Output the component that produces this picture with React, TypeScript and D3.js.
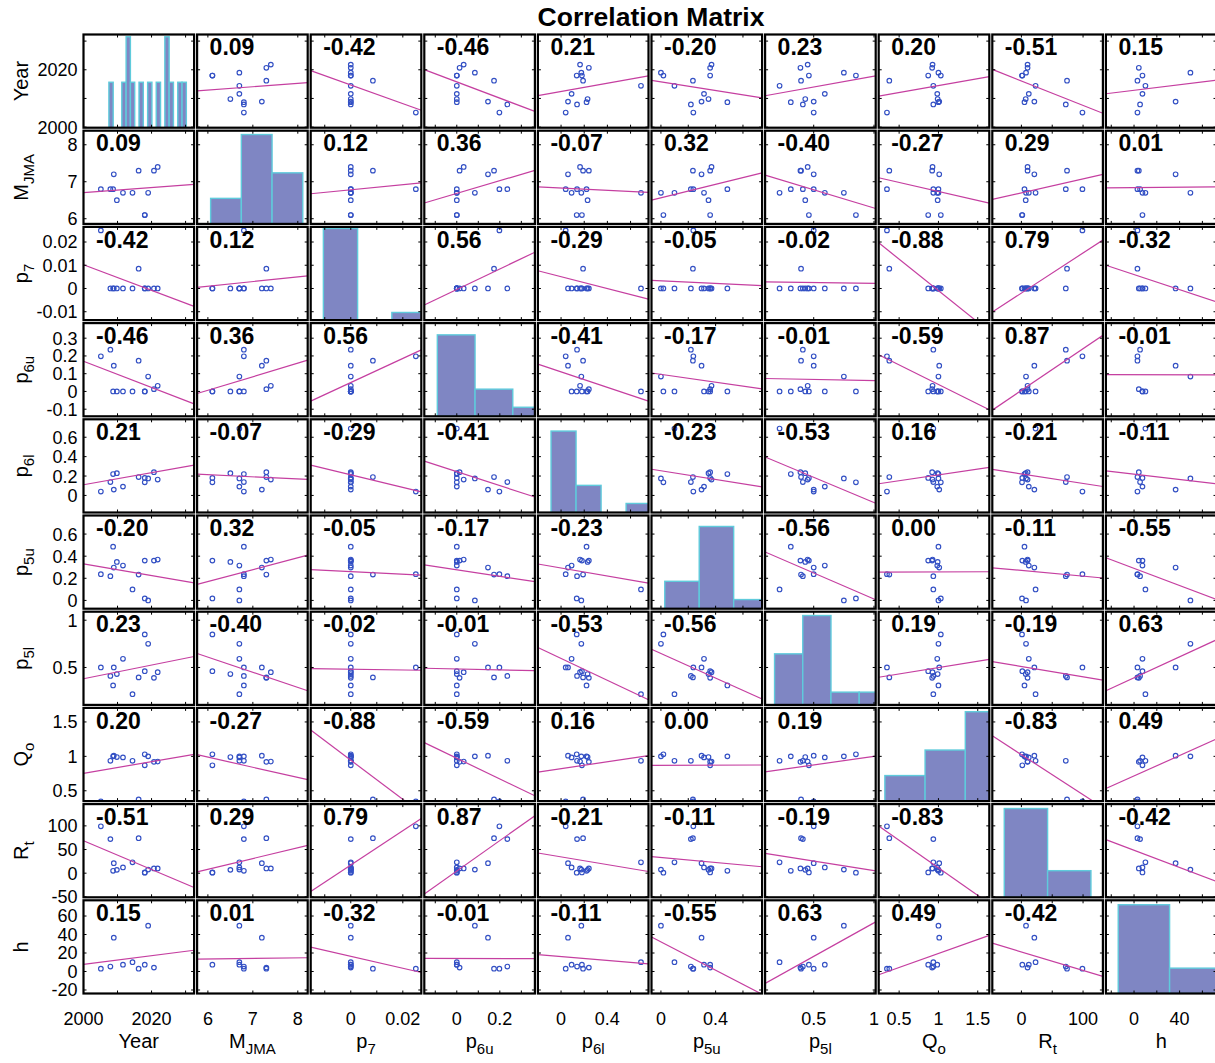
import React from "react";
import * as d3 from "d3";

// ---- observations (one entry per event) ----
const year = [2005.1, 2007.9, 2008.7, 2008.9, 2009.8, 2011.6, 2014.4, 2016.2, 2018.0, 2018.0, 2019.0, 2020.7, 2021.8];
const mjma = [6.8, 6.8, 6.8, 7.2, 6.5, 6.7, 6.7, 7.3, 6.1, 6.1, 6.7, 7.3, 7.4];
const p7 = [0.025, 0, 0, 0, 0, 0, 0, 0.0085, 0, 0, 0, 0, 0];
const p6u = [0.198, 0.235, 0, 0.145, 0, 0, 0, 0.173, 0, 0, 0.084, 0.013, 0.032];
const p6l = [0.04, 0.138, 0.22, 0.06, 0.229, 0.091, 0.69, 0.19, 0.18, 0.135, 0.175, 0.24, 0.164];
const p5u = [0.237, 0.219, 0.486, 0.297, 0.348, 0.315, 0.099, 0.234, 0.36, 0.018, 0.0, 0.36, 0.37];
const p5l = [0.5, 0.41, 0.31, 0.5, 0.43, 0.592, 0.217, 0.395, 0.46, 0.85, 0.75, 0.39, 0.45];
const qo = [0.345, 0.935, 1.0, 1.01, 0.99, 0.985, 0.935, 0.375, 0.87, 1.03, 1.0, 0.92, 0.925];
const rt = [99, 72, 5, 21, 7, 12, 23, 74, 1.5, 1.0, 7.5, 10, 10];
const depth = [3, 5.3, NaN, 36.5, NaN, 7.4, 10, 3, 7.4, NaN, 49.5, 4.2, NaN];

const columns = [year, mjma, p7, p6u, p6l, p5u, p5l, qo, rt, depth];

// variable names: main text + subscript
const nameMain = ["Year", "M", "p", "p", "p", "p", "p", "Q", "R", "h"];
const nameSub = ["", "JMA", "7", "6u", "6l", "5u", "5l", "o", "t", ""];

// printed correlation coefficients (upper triangle, row by row)
const corrUpper = [
  [0.09, -0.42, -0.46, 0.21, -0.2, 0.23, 0.2, -0.51, 0.15],
  [0.12, 0.36, -0.07, 0.32, -0.4, -0.27, 0.29, 0.01],
  [0.56, -0.29, -0.05, -0.02, -0.88, 0.79, -0.32],
  [-0.41, -0.17, -0.01, -0.59, 0.87, -0.01],
  [-0.23, -0.53, 0.16, -0.21, -0.11],
  [-0.56, 0.0, -0.11, -0.55],
  [0.19, -0.19, 0.63],
  [-0.83, 0.49],
  [-0.42],
];

// axis limits
const xDomains: [number, number][] = [
  [2000, 2032.5], [5.76, 8.22], [-0.0154, 0.0271], [-0.151, 0.363], [-0.2, 0.755],
  [-0.069, 0.74], [0.097, 1.014], [0.24, 1.647], [-47.2, 132.2], [-24.7, 72.4],
];
const yDomains: [number, number][] = [
  [1999.8, 2032.3], [5.86, 8.38], [-0.0136, 0.0265], [-0.14, 0.385], [-0.176, 0.785],
  [-0.075, 0.768], [0.104, 1.09], [0.35, 1.704], [-51, 146], [-23.8, 77],
];

// tick marks and tick labels
const tickMarks = [
  [2000, 2010, 2020, 2030], [6, 7, 8], [-0.01, 0, 0.01, 0.02], [-0.1, 0, 0.1, 0.2, 0.3],
  [0, 0.2, 0.4, 0.6], [0, 0.2, 0.4, 0.6], [0.5, 1], [0.5, 1, 1.5], [-50, 0, 50, 100], [-20, 0, 20, 40, 60],
];
const yTickLabels = [
  [2000, 2020], [6, 7, 8], [-0.01, 0, 0.01, 0.02], [-0.1, 0, 0.1, 0.2, 0.3],
  [0, 0.2, 0.4, 0.6], [0, 0.2, 0.4, 0.6], [0.5, 1], [0.5, 1, 1.5], [-50, 0, 50, 100], [-20, 0, 20, 40, 60],
];
const xTickLabels = [
  [2000, 2020], [6, 7, 8], [0, 0.02], [0, 0.2], [0, 0.4], [0, 0.4], [0.5, 1], [0.5, 1, 1.5], [0, 100], [0, 40],
];

// diagonal histograms: bin edges, counts, horizontal extent and count at the top edge
const histEdges = [
  [2004.6, 2005.6, 2006.6, 2007.6, 2008.6, 2009.6, 2010.6, 2011.6, 2012.6, 2013.6, 2014.6, 2015.6, 2016.6, 2017.6, 2018.6, 2019.6, 2020.6, 2021.6, 2022.6],
  [6, 6.5, 7, 7.5],
  [0, 0.01, 0.02, 0.03],
  [0, 0.1, 0.2, 0.3],
  [0, 0.2, 0.4, 0.6, 0.8],
  [0, 0.2, 0.4, 0.6],
  [0.2, 0.4, 0.6, 0.8, 1.0],
  [0.3, 0.6, 0.9, 1.2],
  [0, 50, 100],
  [0, 30, 60],
];
const histCounts = [
  [1, 0, 0, 1, 2, 1, 0, 1, 0, 1, 0, 1, 0, 2, 1, 0, 1, 1],
  [2, 7, 4],
  [12, 0, 1],
  [9, 3, 1],
  [9, 3, 0, 1],
  [3, 9, 1],
  [4, 7, 1, 1],
  [2, 4, 7],
  [10, 3],
  [7, 2],
];
const histDomains: [number, number][] = [
  [1998.7, 2024.4], [5.78, 7.58], [-0.0037, 0.0286], [-0.0345, 0.2586], [-0.105, 0.779],
  [-0.077, 0.565], [0.133, 0.917], [0.254, 1.079], [-13.8, 113.8], [-7.2, 57.4],
];
const histMax = [2.05, 7.3, 12.2, 10.3, 10.3, 10.2, 7.3, 7.3, 10.5, 7.35];

// ---- layout & style ----
const WIDTH = 1215;
const HEIGHT = 1063;
const LEFT = 83.5;
const TOP = 34.5;
const COL_STEP = 113.6;
const ROW_STEP = 96.2;
const CELL_W = 110.6;
const CELL_H = 93.2;
const FONT = "'Liberation Sans', Arial, Helvetica, sans-serif";
const POINT_COLOR = "#3350c4";
const LINE_COLOR = "#c53fa0";
const BAR_FILL = "#7f86c3";
const BAR_EDGE = "#5fcbdc";

function corrAt(r: number, c: number): number {
  const i = Math.min(r, c);
  const j = Math.max(r, c);
  return corrUpper[i][j - i - 1];
}

function leastSquares(xs: number[], ys: number[]) {
  const pts = xs.map((x, i) => [x, ys[i]]).filter(([a, b]) => Number.isFinite(a) && Number.isFinite(b));
  const mx = d3.mean(pts, (p) => p[0]) as number;
  const my = d3.mean(pts, (p) => p[1]) as number;
  let sxy = 0;
  let sxx = 0;
  for (const [a, b] of pts) {
    sxy += (a - mx) * (b - my);
    sxx += (a - mx) * (a - mx);
  }
  const slope = sxy / sxx;
  return { slope, intercept: my - slope * mx, pts };
}

function VarName({ i, x, y, rotate }: { i: number; x: number; y: number; rotate?: boolean }) {
  return (
    <text
      x={x}
      y={y}
      fontSize={20}
      textAnchor="middle"
      transform={rotate ? `rotate(-90 ${x} ${y})` : undefined}
      fill="#000"
    >
      <tspan>{nameMain[i]}</tspan>
      {nameSub[i] ? (
        <tspan fontSize={15} dy={6}>
          {nameSub[i]}
        </tspan>
      ) : null}
    </text>
  );
}

function Cell({ r, c }: { r: number; c: number }) {
  const x0 = LEFT + c * COL_STEP;
  const y0 = TOP + r * ROW_STEP;
  const xs = d3.scaleLinear().domain(xDomains[c]).range([x0, x0 + CELL_W]);
  const ys = d3.scaleLinear().domain(yDomains[r]).range([y0 + CELL_H, y0]);
  const clipId = `clip-${r}-${c}`;
  const tl = 3;

  let body: React.ReactNode = null;
  if (r === c) {
    const hx = d3.scaleLinear().domain(histDomains[c]).range([x0, x0 + CELL_W]);
    const hy = d3.scaleLinear().domain([0, histMax[c]]).range([y0 + CELL_H, y0]);
    const edges = histEdges[c];
    body = histCounts[c].map((n, k) =>
      n > 0 ? (
        <rect
          key={k}
          x={hx(edges[k])}
          y={hy(n)}
          width={hx(edges[k + 1]) - hx(edges[k])}
          height={hy(0) - hy(n)}
          fill={BAR_FILL}
          stroke={BAR_EDGE}
          strokeWidth={1.4}
        />
      ) : null
    );
  } else {
    const fit = leastSquares(columns[c], columns[r]);
    const [d0, d1] = xDomains[c];
    const line = d3.line<number>().x((v) => xs(v)).y((v) => ys(fit.slope * v + fit.intercept));
    body = (
      <g>
        {fit.pts.map(([a, b], k) => (
          <circle key={k} cx={xs(a)} cy={ys(b)} r={2.3} fill="none" stroke={POINT_COLOR} strokeWidth={1.15} />
        ))}
        <path d={line([d0, d1]) as string} fill="none" stroke={LINE_COLOR} strokeWidth={1.2} />
      </g>
    );
  }

  const yt = tickMarks[r].filter((v) => v >= yDomains[r][0] && v <= yDomains[r][1]);
  const xt = tickMarks[c].filter((v) => v >= xDomains[c][0] && v <= xDomains[c][1]);

  return (
    <g>
      <defs>
        <clipPath id={clipId}>
          <rect x={x0} y={y0} width={CELL_W} height={CELL_H} />
        </clipPath>
      </defs>
      <g clipPath={`url(#${clipId})`}>{body}</g>
      <g stroke="#000" strokeWidth={1}>
        {yt.map((v) => (
          <g key={`y${v}`}>
            <line x1={x0} x2={x0 + tl} y1={ys(v)} y2={ys(v)} />
            <line x1={x0 + CELL_W} x2={x0 + CELL_W - tl} y1={ys(v)} y2={ys(v)} />
          </g>
        ))}
        {xt.map((v) => (
          <g key={`x${v}`}>
            <line x1={xs(v)} x2={xs(v)} y1={y0 + CELL_H} y2={y0 + CELL_H - tl} />
            <line x1={xs(v)} x2={xs(v)} y1={y0} y2={y0 + tl} />
          </g>
        ))}
      </g>
      <rect x={x0} y={y0} width={CELL_W} height={CELL_H} fill="none" stroke="#000" strokeWidth={2.2} />
      {r !== c ? (
        <text x={x0 + 12.5} y={y0 + 20.6} fontSize={23} fontWeight="bold" fill="#000">
          {corrAt(r, c).toFixed(2)}
        </text>
      ) : null}
      {c === 0
        ? yTickLabels[r].map((v) => (
            <text key={`yl${v}`} x={x0 - 6} y={ys(v)} dy="0.36em" fontSize={18} textAnchor="end" fill="#000">
              {String(v)}
            </text>
          ))
        : null}
      {r === columns.length - 1
        ? xTickLabels[c].map((v) => (
            <text key={`xl${v}`} x={xs(v)} y={1025} fontSize={18} textAnchor="middle" fill="#000">
              {String(v)}
            </text>
          ))
        : null}
    </g>
  );
}

export default function App() {
  const n = columns.length;
  const idx = d3.range(n);
  return (
    <svg
      width={WIDTH}
      height={HEIGHT}
      viewBox={`0 0 ${WIDTH} ${HEIGHT}`}
      style={{ position: "fixed", left: 0, top: 0, background: "#fff" }}
      fontFamily={FONT}
    >
      <rect x={0} y={0} width={WIDTH} height={HEIGHT} fill="#fff" />
      <text x={651} y={26} fontSize={26.5} fontWeight="bold" textAnchor="middle" fill="#000">
        Correlation Matrix
      </text>
      {idx.map((r) => idx.map((c) => <Cell key={`${r}-${c}`} r={r} c={c} />))}
      {idx.map((i) => (
        <VarName key={`yn${i}`} i={i} x={28} y={TOP + i * ROW_STEP + CELL_H / 2} rotate />
      ))}
      {idx.map((i) => (
        <VarName key={`xn${i}`} i={i} x={LEFT + i * COL_STEP + CELL_W / 2} y={1048} />
      ))}
    </svg>
  );
}
